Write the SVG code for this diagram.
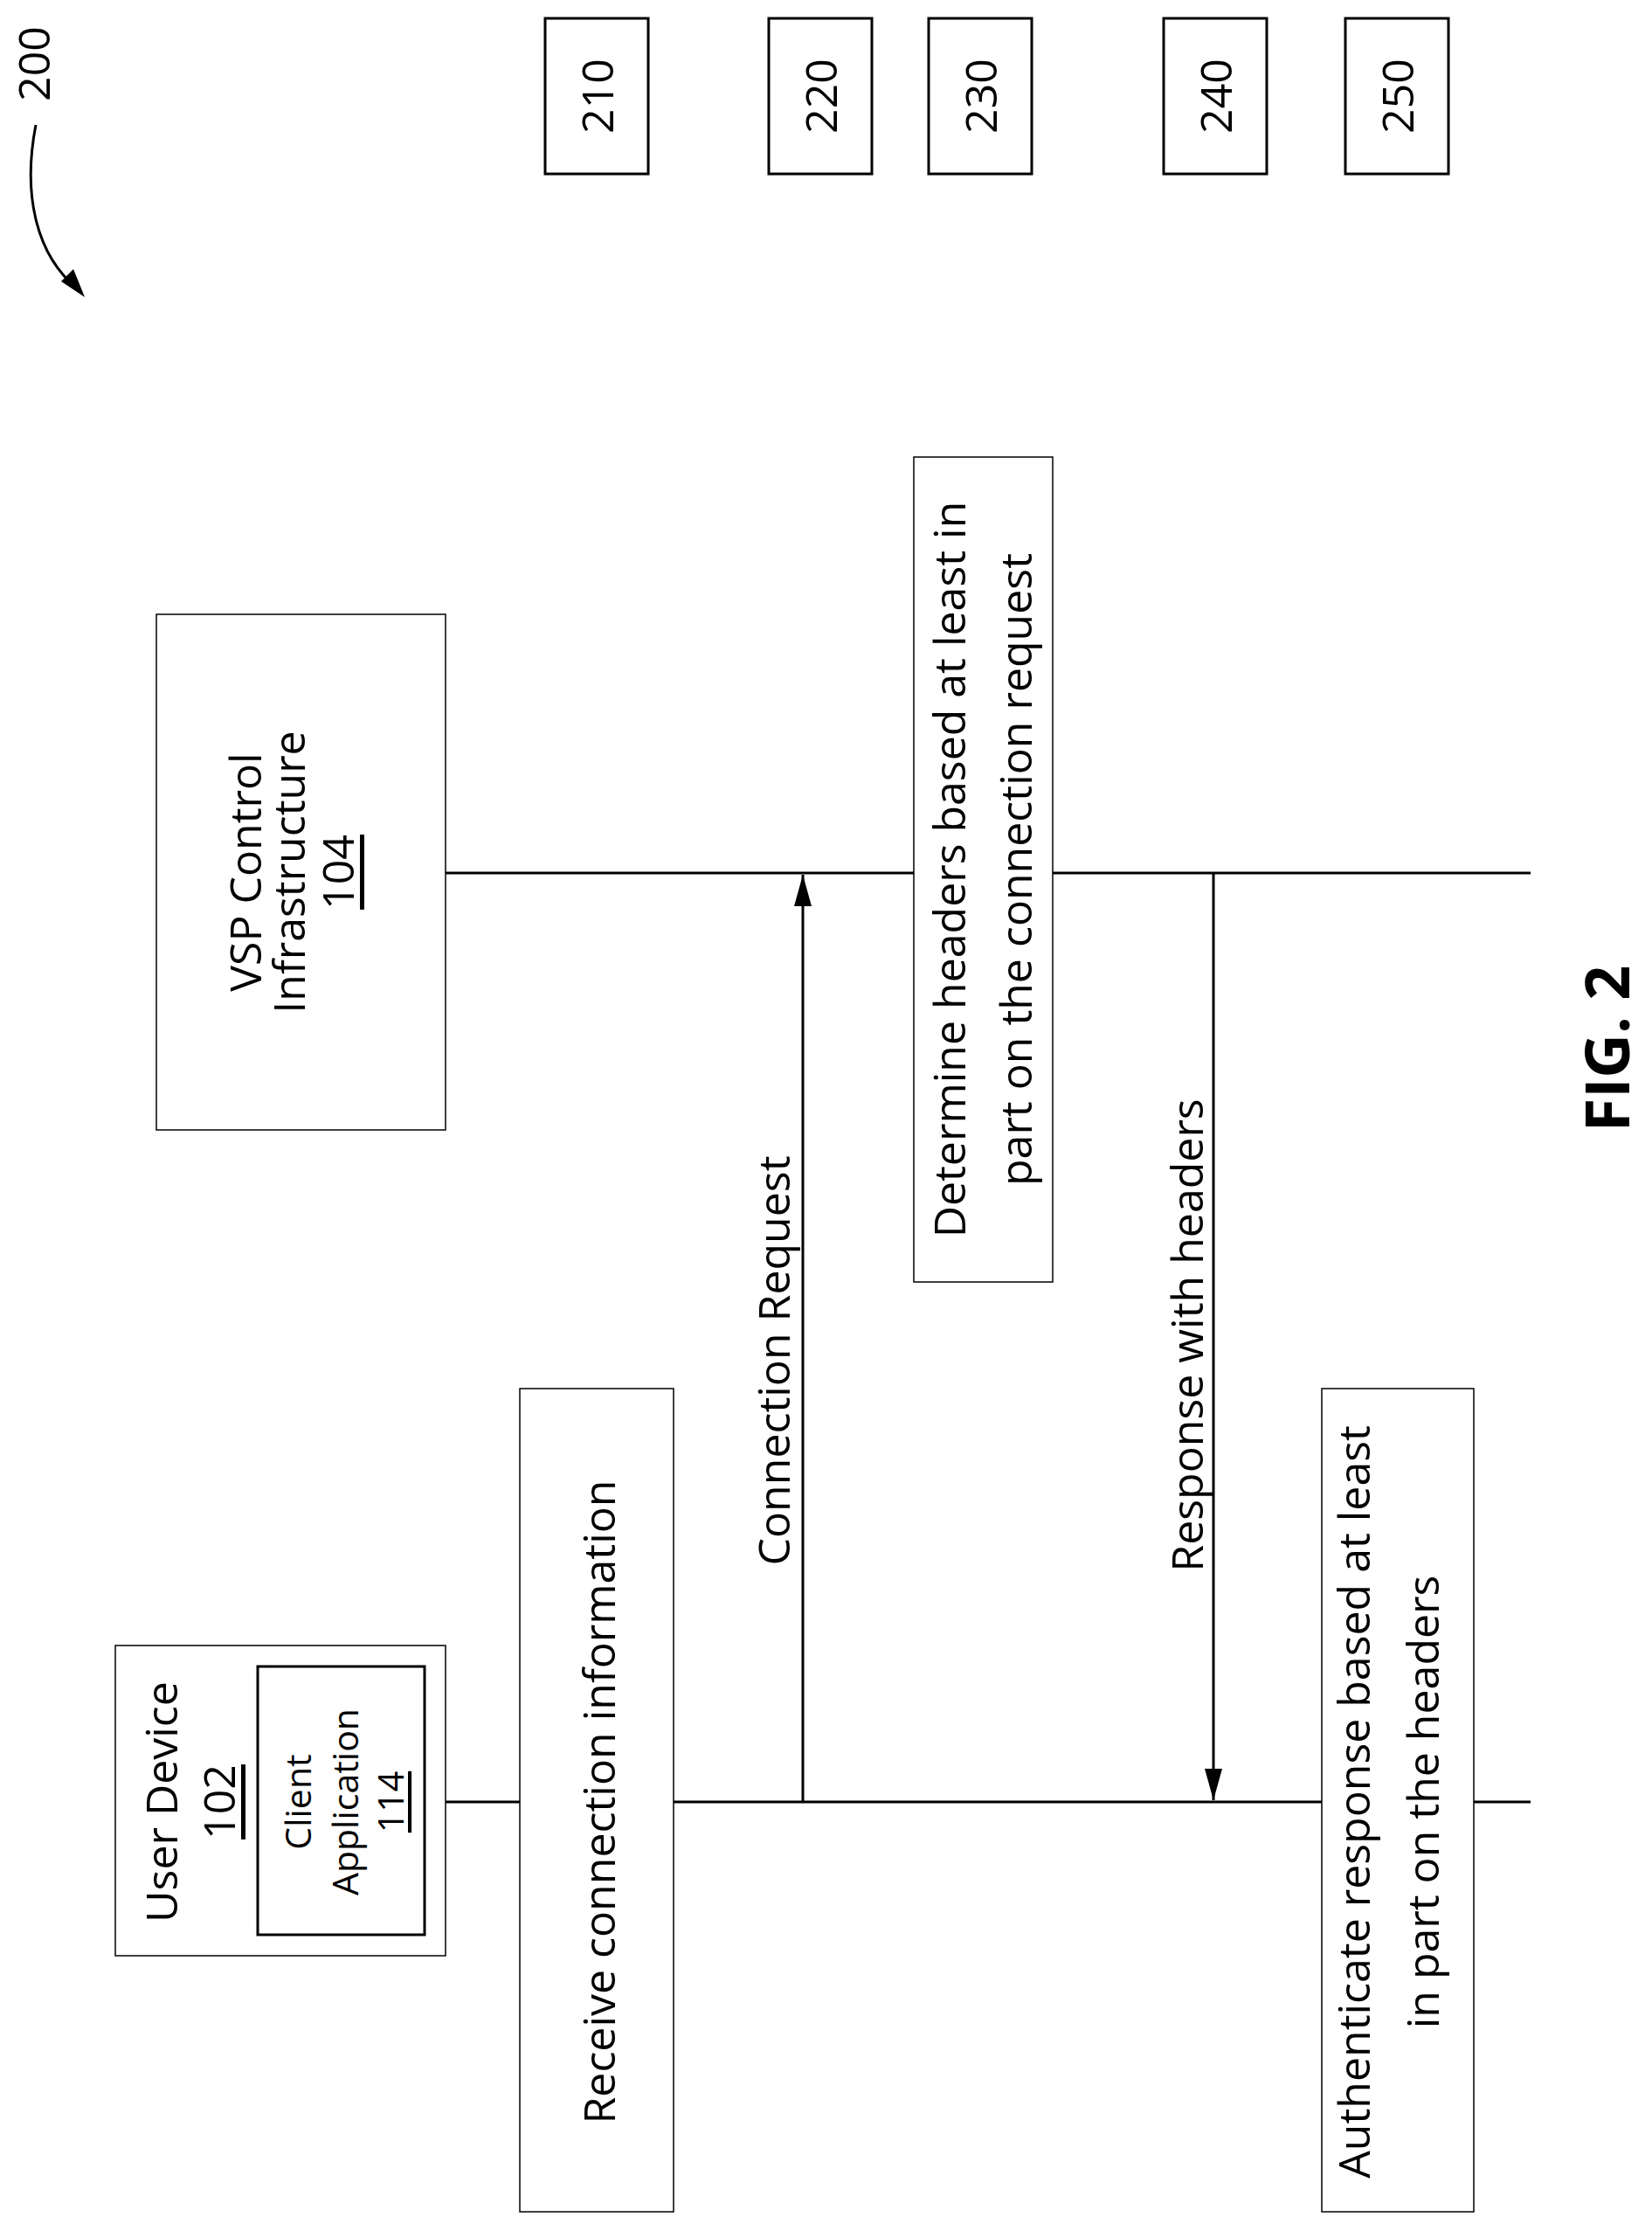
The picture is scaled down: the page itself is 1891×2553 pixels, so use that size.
<svg xmlns="http://www.w3.org/2000/svg" width="1891" height="2553" viewBox="0 0 1891 2553">
<style>
.b{fill:#fff;stroke:#000;stroke-width:1.5}
.n{fill:#fff;stroke:#000;stroke-width:3}
.t{font-family:"Open Sans","DejaVu Sans",sans-serif;font-size:50px;text-anchor:middle;dominant-baseline:central}
.s{font-size:41px}
.u{text-decoration:underline}
.l{stroke:#000;stroke-width:3;fill:none}
</style>
<defs><marker id="a" viewBox="0 0 36 20" refX="36" refY="10" markerWidth="36" markerHeight="20" markerUnits="userSpaceOnUse" orient="auto"><path d="M0,0L36,10L0,20z"/></marker></defs>
<g id="connectors">
<line class="l" x1="510" y1="999" x2="1752" y2="999"/>
<line class="l" x1="510" y1="2062" x2="1752" y2="2062"/>
<line class="l" x1="919" y1="2062" x2="919" y2="1001" marker-end="url(#a)"/>
<line class="l" x1="1389" y1="999" x2="1389" y2="2060" marker-end="url(#a)"/>
<path class="l" d="M41,143 C26,220 40,290 88,330"/>
<path d="M70,322 L97,340 L84,308 Z"/>
</g>
<g id="ref200"><text class="t" transform="translate(38,73) rotate(-90)">200</text></g>
<g id="n210"><rect class="n" x="624" y="21" width="118" height="178"/><text class="t" transform="translate(683,110) rotate(-90)">210</text></g>
<g id="n220"><rect class="n" x="880" y="21" width="118" height="178"/><text class="t" transform="translate(939,110) rotate(-90)">220</text></g>
<g id="n230"><rect class="n" x="1063" y="21" width="118" height="178"/><text class="t" transform="translate(1122,110) rotate(-90)">230</text></g>
<g id="n240"><rect class="n" x="1332" y="21" width="118" height="178"/><text class="t" transform="translate(1391,110) rotate(-90)">240</text></g>
<g id="n250"><rect class="n" x="1540" y="21" width="118" height="178"/><text class="t" transform="translate(1599,110) rotate(-90)">250</text></g>
<g id="vsp"><rect class="b" x="179" y="703" width="331" height="590"/>
<text class="t" transform="translate(280,998) rotate(-90)">VSP Control</text>
<text class="t" transform="translate(330,998) rotate(-90)">Infrastructure</text>
<text class="t u" transform="translate(386,998) rotate(-90)">104</text></g>
<g id="determine"><rect class="b" x="1046" y="523" width="159" height="944"/>
<text class="t" transform="translate(1086,995) rotate(-90)">Determine headers based at least in</text>
<text class="t" transform="translate(1162,995) rotate(-90)">part on the connection request</text></g>
<g id="user"><rect class="b" x="132" y="1883" width="378" height="355"/>
<text class="t" transform="translate(184,2062) rotate(-90)">User Device</text>
<text class="t u" transform="translate(250,2062) rotate(-90)">102</text>
<rect class="n" x="295" y="1907" width="191" height="307"/>
<text class="t s" transform="translate(340,2062) rotate(-90)">Client</text>
<text class="t s" transform="translate(394,2062) rotate(-90)">Application</text>
<text class="t s u" transform="translate(446,2062) rotate(-90)">114</text></g>
<g id="receive"><rect class="b" x="595" y="1589" width="176" height="942"/>
<text class="t" transform="translate(685,2062) rotate(-90)">Receive connection information</text></g>
<g id="auth"><rect class="b" x="1513" y="1589" width="174" height="942"/>
<text class="t" transform="translate(1549,2062) rotate(-90)">Authenticate response based at least</text>
<text class="t" transform="translate(1628,2062) rotate(-90)">in part on the headers</text></g>
<text class="t" transform="translate(885,1557) rotate(-90)">Connection Request</text>
<text class="t" transform="translate(1358,1528) rotate(-90)">Response with headers</text>
<text class="t" style="font-weight:bold;font-size:70px" transform="translate(1838,1200) rotate(-90)">FIG. 2</text>
</svg>
